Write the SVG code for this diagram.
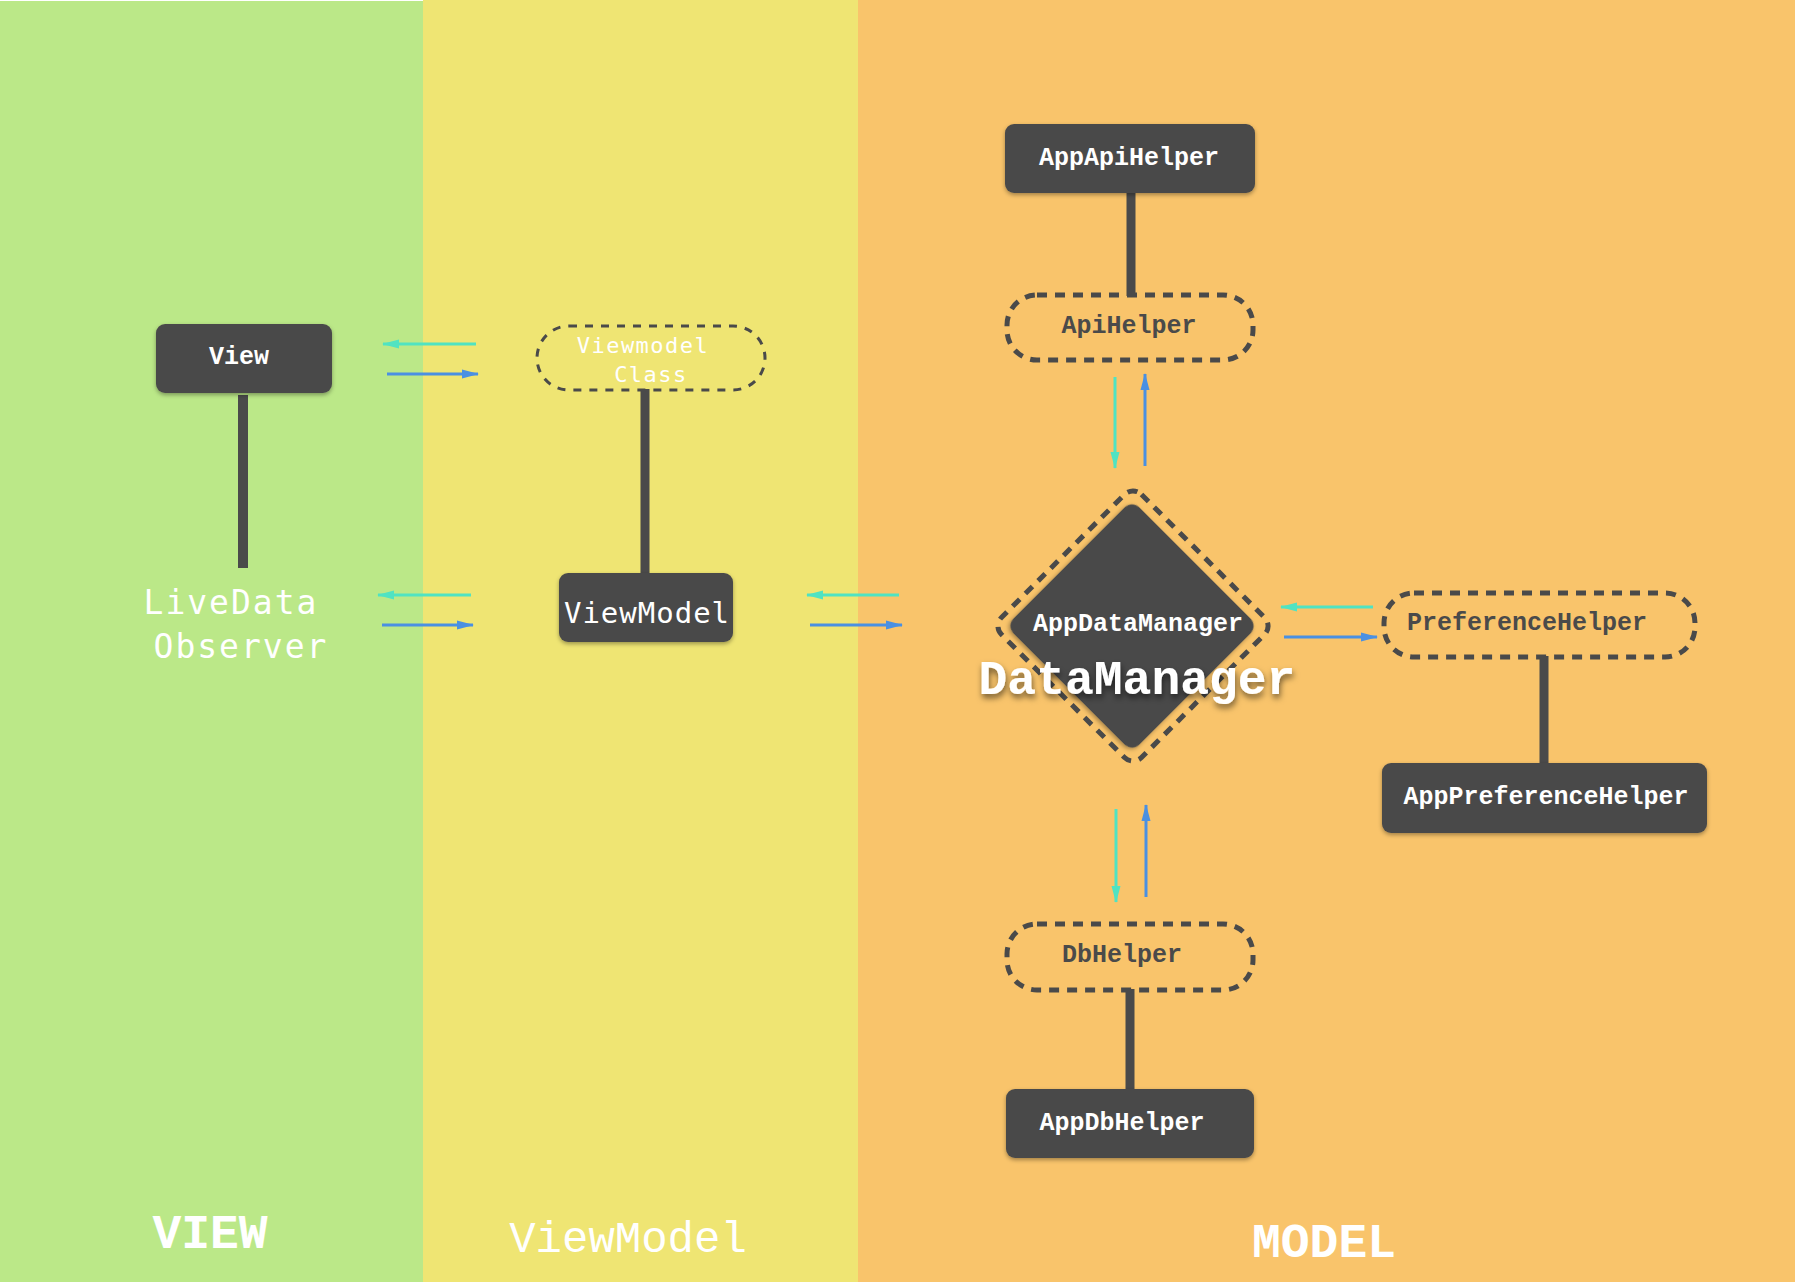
<svg xmlns="http://www.w3.org/2000/svg" width="1795" height="1283" viewBox="0 0 1795 1283">
<style>
.box{fill:#4A4A4A;filter:url(#sh)}
.pill{fill:none;stroke:#4A4A4A;stroke-width:5;stroke-dasharray:10 8}
.pill2{fill:none;stroke:#4A4A4A;stroke-width:3;stroke-dasharray:8 8}
.wb{font-family:"Liberation Mono",monospace;font-weight:bold;font-size:25px;fill:#FFFFFF;text-anchor:middle}
.db{font-family:"Liberation Mono",monospace;font-weight:bold;font-size:25px;fill:#4A4A4A;text-anchor:middle}
.sm{font-family:"DejaVu Sans Mono",monospace;fill:#FFFFFF;text-anchor:middle}
.link{stroke:#4A4A4A;stroke-width:9;fill:none}
.c{stroke:#50E3C2;stroke-width:3;fill:none;marker-end:url(#mc)}
.b{stroke:#4A90E2;stroke-width:3;fill:none;marker-end:url(#mb)}
.lbl{font-family:"Liberation Mono",monospace;fill:#FFFFFF;text-anchor:middle}
</style>
<defs>
<filter id="sh" x="-20%" y="-20%" width="140%" height="150%">
<feDropShadow dx="0" dy="2" stdDeviation="2" flood-color="#000" flood-opacity="0.35"/>
</filter>
<filter id="tsh" x="-10%" y="-30%" width="120%" height="170%">
<feDropShadow dx="1" dy="4" stdDeviation="3" flood-color="#000" flood-opacity="0.55"/>
</filter>
<marker id="mc" markerWidth="18" markerHeight="10" refX="16" refY="5" orient="auto" markerUnits="userSpaceOnUse"><path d="M0,0.5 L17,5 L0,9.5 z" fill="#50E3C2"/></marker>
<marker id="mb" markerWidth="18" markerHeight="10" refX="16" refY="5" orient="auto" markerUnits="userSpaceOnUse"><path d="M0,0.5 L17,5 L0,9.5 z" fill="#4A90E2"/></marker>
</defs>
<rect x="0" y="0" width="1795" height="1283" fill="#FFFFFF"/>
<g id="panels">
<rect x="0" y="1" width="423" height="1281" fill="#BBE888"/>
<rect x="423" y="0" width="435" height="1282" fill="#EFE573"/>
<rect x="858" y="0" width="937" height="1282" fill="#F9C46B"/>
</g>
<g id="connectors">
<line class="link" x1="243" y1="395" x2="243" y2="568" style="stroke-width:10"/>
<line class="link" x1="645" y1="389" x2="645" y2="574"/>
<line class="link" x1="1131" y1="192" x2="1131" y2="296"/>
<line class="link" x1="1544" y1="656" x2="1544" y2="764"/>
<line class="link" x1="1130" y1="989" x2="1130" y2="1090"/>
<line class="c" x1="476" y1="344" x2="383" y2="344"/>
<line class="b" x1="387" y1="374" x2="478" y2="374"/>
<line class="c" x1="471" y1="595" x2="378" y2="595"/>
<line class="b" x1="382" y1="625" x2="473" y2="625"/>
<line class="c" x1="899" y1="595" x2="807" y2="595"/>
<line class="b" x1="810" y1="625" x2="902" y2="625"/>
<line class="c" x1="1115" y1="377" x2="1115" y2="468"/>
<line class="b" x1="1145" y1="466" x2="1145" y2="374"/>
<line class="c" x1="1373" y1="607" x2="1281" y2="607"/>
<line class="b" x1="1284" y1="637" x2="1377" y2="637"/>
<line class="c" x1="1116" y1="809" x2="1116" y2="902"/>
<line class="b" x1="1146" y1="897" x2="1146" y2="805"/>
</g>
<g id="view">
<rect class="box" x="156" y="324" width="176" height="69" rx="9"/>
<text class="wb" x="239" y="364">View</text>
</g>
<g id="livedata">
<text class="sm" x="231" y="614" font-size="33" letter-spacing="2">LiveData</text>
<text class="sm" x="241" y="658" font-size="33" letter-spacing="2">Observer</text>
</g>
<g id="viewmodelclass">
<rect class="pill2" x="537" y="326" width="228" height="64" rx="32"/>
<text class="sm" x="643" y="353" font-size="22" letter-spacing="1.5">Viewmodel</text>
<text class="sm" x="651" y="382" font-size="22" letter-spacing="1.5">Class</text>
</g>
<g id="viewmodel">
<rect class="box" x="559" y="573" width="174" height="69" rx="9"/>
<text class="sm" x="647" y="623" font-size="29" letter-spacing="1">ViewModel</text>
</g>
<g id="appapihelper">
<rect class="box" x="1005" y="124" width="250" height="69" rx="9"/>
<text class="wb" x="1129" y="165">AppApiHelper</text>
</g>
<g id="apihelper">
<rect class="pill" x="1007" y="295" width="246" height="65" rx="30"/>
<text class="db" x="1129" y="333">ApiHelper</text>
</g>
<g id="datamanager">
<rect x="1034" y="527" width="198" height="198" rx="12" transform="rotate(45 1133 626)" class="pill"/>
<rect class="box" x="1043" y="537" width="178" height="178" rx="10" transform="rotate(45 1132 626)"/>
<text class="wb" x="1138" y="631">AppDataManager</text>
<text class="wb" x="1137" y="694" font-size="48" style="font-size:48px;filter:url(#tsh)">DataManager</text>
</g>
<g id="preferencehelper">
<rect class="pill" x="1384" y="593" width="311" height="64" rx="30"/>
<text class="db" x="1527" y="630">PreferenceHelper</text>
</g>
<g id="apppreferencehelper">
<rect class="box" x="1382" y="763" width="325" height="70" rx="9"/>
<text class="wb" x="1546" y="804">AppPreferenceHelper</text>
</g>
<g id="dbhelper">
<rect class="pill" x="1007" y="924" width="246" height="66" rx="30"/>
<text class="db" x="1122" y="962">DbHelper</text>
</g>
<g id="appdbhelper">
<rect class="box" x="1006" y="1089" width="248" height="69" rx="9"/>
<text class="wb" x="1122" y="1130">AppDbHelper</text>
</g>
<g id="labels">
<text class="lbl" x="210" y="1248" font-size="48" font-weight="bold">VIEW</text>
<text class="lbl" x="628" y="1252" font-size="44">ViewModel</text>
<text class="lbl" x="1324" y="1257" font-size="48" font-weight="bold">MODEL</text>
</g>
</svg>
